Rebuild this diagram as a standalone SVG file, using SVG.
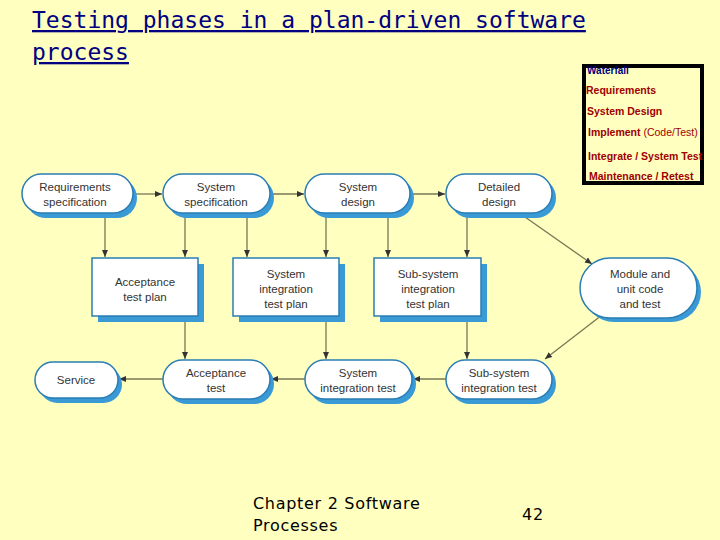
<svg xmlns="http://www.w3.org/2000/svg" width="720" height="540" viewBox="0 0 720 540">
<style>
.sh{fill:#3a9ad6}
.pill{fill:#fff;stroke:#2a7db5;stroke-width:1.5}
.box{fill:#fff;stroke:#2a7db5;stroke-width:1.5}
.t{font-family:"Liberation Sans",Arial,sans-serif;font-size:11.5px;fill:#333;text-anchor:middle}
.c{stroke:#777755;stroke-width:1.3;fill:none;marker-end:url(#a)}
.w{font-family:"Liberation Sans",Arial,sans-serif;font-size:10.5px;font-weight:bold;fill:#a00000}
.title{font-family:"DejaVu Sans Mono",monospace;font-size:23px;fill:#000080;text-decoration:underline}
.f{font-family:"DejaVu Sans",sans-serif;font-size:16px;fill:#000;letter-spacing:0.7px}
</style>
<defs><marker id="a" markerWidth="8" markerHeight="8" refX="7" refY="4" orient="auto" markerUnits="userSpaceOnUse"><path d="M0,1 L7,4 L0,7z" fill="#333"/></marker></defs>
<rect width="720" height="540" fill="#ffffc0"/>
<text class="title" x="32" y="28">Testing phases in a plan-driven software</text>
<text class="title" x="32" y="60">process</text>
<g id="waterfall">
<rect x="584" y="66" width="118" height="117" fill="#ffffc0" stroke="#000" stroke-width="4"/>
<text x="587" y="74" font-family="Liberation Sans,sans-serif" font-size="10" font-weight="bold" fill="#000080">Waterfall</text>
<text class="w" x="586" y="94">Requirements</text>
<text class="w" x="587" y="115">System Design</text>
<text class="w" x="588" y="136">Implement <tspan font-weight="normal">(Code/Test)</tspan></text>
<text class="w" x="588" y="160" font-weight="normal">Integrate / System Test</text>
<text class="w" x="589" y="180">Maintenance / Retest</text>
</g>
<g id="connectors">
<path class="c" d="M133,194 H162"/><path class="c" d="M270,194 H304"/><path class="c" d="M410,194 H445"/>
<path class="c" d="M105,213 V257"/><path class="c" d="M185,213 V257"/><path class="c" d="M247,213 V257"/>
<path class="c" d="M326,213 V257"/><path class="c" d="M388,213 V257"/><path class="c" d="M467,213 V257"/>
<path class="c" d="M185,316 V359"/><path class="c" d="M326,316 V359"/><path class="c" d="M467,316 V359"/>
<path class="c" d="M525,217 L592,264"/><path class="c" d="M602,315 L545,359"/>
<path class="c" d="M446,379 H413"/><path class="c" d="M305,379 H271"/><path class="c" d="M163,379 H119"/>
</g>
<g id="req"><rect class="sh" x="26" y="178" width="111" height="40" rx="20"/><rect class="pill" x="22" y="174" width="111" height="39" rx="19.5"/><text class="t" x="75" y="191">Requirements</text><text class="t" x="75" y="206">specification</text></g>
<g id="sysspec"><rect class="sh" x="167" y="178" width="107" height="40" rx="20"/><rect class="pill" x="163" y="174" width="107" height="39" rx="19.5"/><text class="t" x="216" y="191">System</text><text class="t" x="216" y="206">specification</text></g>
<g id="sysdes"><rect class="sh" x="309" y="178" width="105" height="40" rx="20"/><rect class="pill" x="305" y="174" width="105" height="39" rx="19.5"/><text class="t" x="358" y="191">System</text><text class="t" x="358" y="206">design</text></g>
<g id="detdes"><rect class="sh" x="450" y="178" width="106" height="40" rx="20"/><rect class="pill" x="446" y="174" width="106" height="39" rx="19.5"/><text class="t" x="499" y="191">Detailed</text><text class="t" x="499" y="206">design</text></g>
<g id="atp"><rect class="sh" x="98" y="264" width="106" height="58"/><rect class="box" x="92" y="258" width="106" height="58"/><text class="t" x="145" y="286">Acceptance</text><text class="t" x="145" y="301">test plan</text></g>
<g id="sitp"><rect class="sh" x="239" y="264" width="106" height="58"/><rect class="box" x="233" y="258" width="106" height="58"/><text class="t" x="286" y="278">System</text><text class="t" x="286" y="293">integration</text><text class="t" x="286" y="308">test plan</text></g>
<g id="ssitp"><rect class="sh" x="380" y="264" width="107" height="58"/><rect class="box" x="374" y="258" width="107" height="58"/><text class="t" x="428" y="278">Sub-system</text><text class="t" x="428" y="293">integration</text><text class="t" x="428" y="308">test plan</text></g>
<g id="module"><rect class="sh" x="584" y="262" width="117" height="60" rx="30"/><rect class="pill" x="580" y="258" width="117" height="60" rx="30"/><text class="t" x="640" y="278">Module and</text><text class="t" x="640" y="293">unit code</text><text class="t" x="640" y="308">and test</text></g>
<g id="service"><rect class="sh" x="39" y="366" width="83" height="37" rx="18.5"/><rect class="pill" x="35" y="362" width="83" height="36" rx="18"/><text class="t" x="76" y="384">Service</text></g>
<g id="at"><rect class="sh" x="167" y="364" width="107" height="40" rx="20"/><rect class="pill" x="163" y="360" width="107" height="39" rx="19.5"/><text class="t" x="216" y="377">Acceptance</text><text class="t" x="216" y="392">test</text></g>
<g id="sit"><rect class="sh" x="309" y="364" width="107" height="40" rx="20"/><rect class="pill" x="305" y="360" width="107" height="39" rx="19.5"/><text class="t" x="358" y="377">System</text><text class="t" x="358" y="392">integration test</text></g>
<g id="ssit"><rect class="sh" x="450" y="364" width="106" height="40" rx="20"/><rect class="pill" x="446" y="360" width="106" height="39" rx="19.5"/><text class="t" x="499" y="377">Sub-system</text><text class="t" x="499" y="392">integration test</text></g>
<text class="f" x="253" y="509">Chapter 2 Software</text>
<text class="f" x="253" y="531">Processes</text>
<text class="f" x="522" y="520">42</text>
</svg>
